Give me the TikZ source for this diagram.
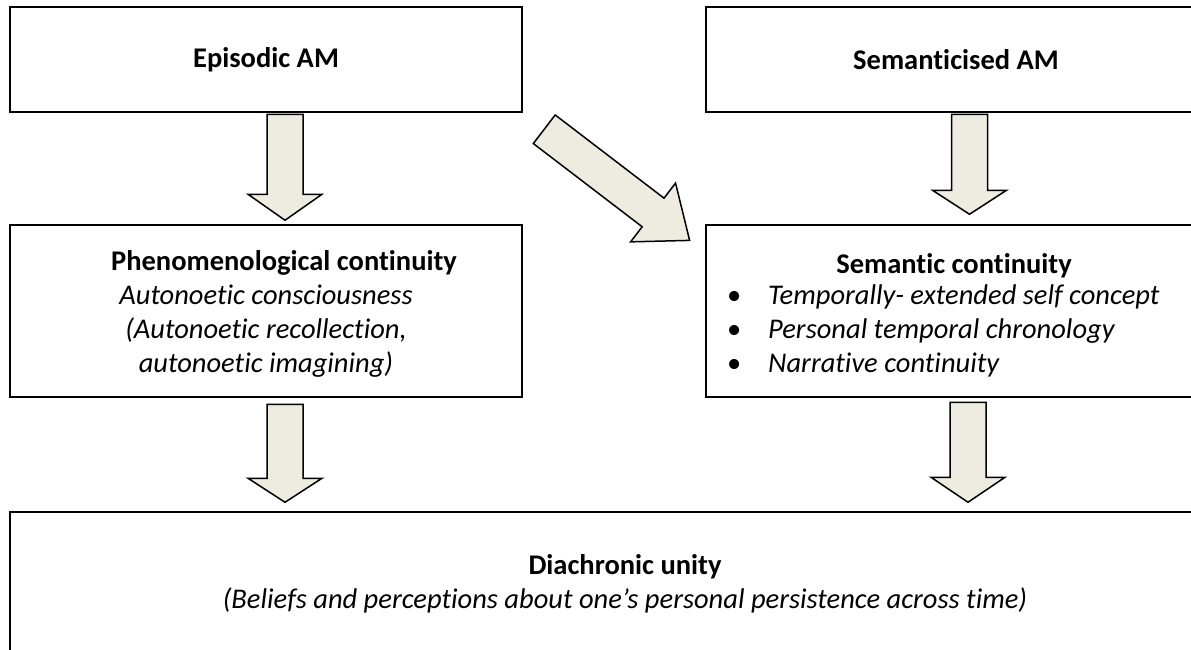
\documentclass[tikz,border=0pt]{standalone}
\usepackage{fontspec}
\setmainfont{Carlito}[Ligatures=NoCommon]
\usetikzlibrary{calc}

\definecolor{arrowfill}{HTML}{EEECE1}

\tikzset{
    pics/fatarrow/.style 2 args={code={
        \draw[line width=1.5pt, fill=arrowfill, line join=miter]
            (0,-18) -- ({#1-#2},-18) -- ({#1-#2},-37) -- (#1,0)
            -- ({#1-#2},37) -- ({#1-#2},18) -- (0,18) -- cycle;
    }}
}

\begin{document}
\begin{tikzpicture}[x=1pt, y=-1pt,
        box/.style={draw, line width=2.5pt, fill=white, inner sep=0pt, font=\fontsize{28.5}{34}\selectfont\bfseries},
        head/.style={inner sep=0pt, font=\fontsize{28.5}{34}\selectfont\bfseries},
        body/.style={inner sep=0pt, align=center, font=\fontsize{28.5}{34}\selectfont\itshape}
    ]
        \useasboundingbox (0,0) rectangle (1191,649);

        % Memory boxes (top)
        \node[box, minimum width=512, minimum height=105] (epi) at (266,59.5) {Episodic AM};
        \node[box, minimum width=500, minimum height=105] (sem) at (956,59.5) {Semanticised AM};

        % Continuity boxes (middle)
        \node[box, minimum width=512, minimum height=172] (phen) at (266,311) {};
        \node[head] (phent) at (284,263) {Phenomenological continuity};
        \node[body] (phenb) at (266,331) {Autonoetic consciousness\\(Autonoetic recollection,\\autonoetic imagining)};

        \node[box, minimum width=496, minimum height=172] (semc) at (954,311) {};
        \node[head] (semct) at (954,266) {Semantic continuity};
        \node[body, align=left, anchor=west] (semcb) at (727,331)
            {\makebox[41pt][l]{\upshape\textbullet}Temporally- extended self concept\\
             \makebox[41pt][l]{\upshape\textbullet}Personal temporal chronology\\
             \makebox[41pt][l]{\upshape\textbullet}Narrative continuity};

        % Unity box (bottom)
        \node[box, minimum width=1230, minimum height=188] (dia) at (625,606) {};
        \node[head] (diat) at (625,567) {Diachronic unity};
        \node[body] (diab) at (625,600) {(Beliefs and perceptions about one’s personal persistence across time)};

        % Block arrows
        \pic[rotate=-90] at ($(epi.south)+(19,1)$) {fatarrow={106}{26}};
        \pic[rotate=-90] at ($(sem.south)+(13.5,1)$) {fatarrow={100}{24}};
        \pic[rotate=-37.4] at ($(epi.south east)+(21,16)$) {fatarrow={183}{46}};
        \pic[rotate=-90] at ($(phen.south)+(19,6)$) {fatarrow={98}{24}};
        \pic[rotate=-90] at ($(semc.south)+(14,4)$) {fatarrow={100}{25}};

\end{tikzpicture}
\end{document}
